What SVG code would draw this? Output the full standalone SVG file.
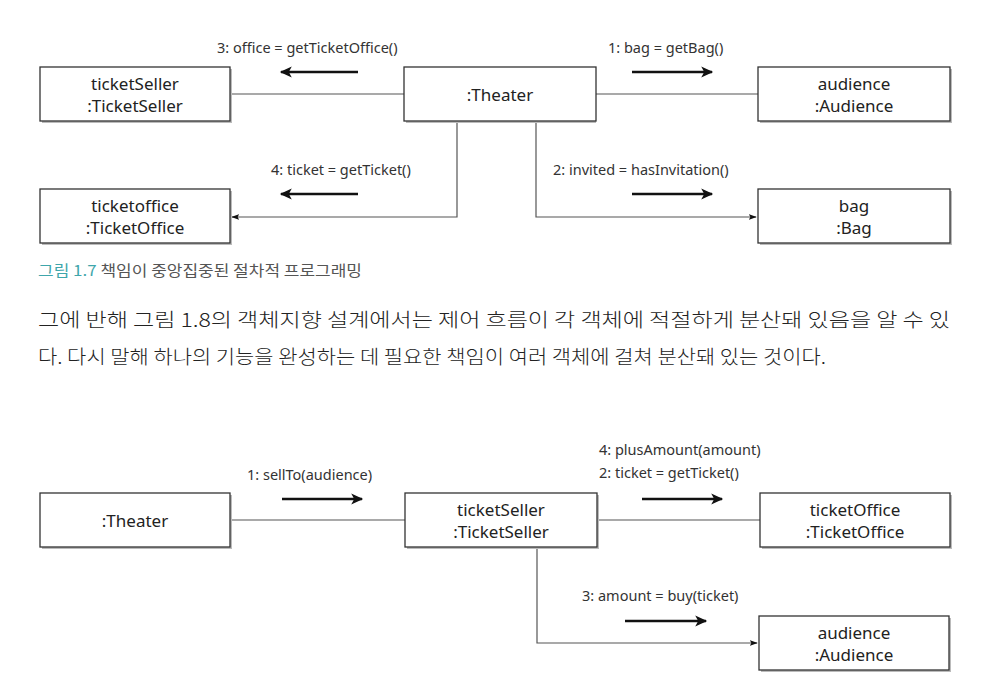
<svg xmlns="http://www.w3.org/2000/svg" width="986" height="686" viewBox="0 0 986 686">
<defs>
<style>
.box{fill:#fff;stroke:#333;stroke-width:1.3}
.sh{fill:#bbb}
.nt{font-family:"Noto Sans","Open Sans",sans-serif;font-size:17px;fill:#222;text-anchor:middle}
.lb{font-family:"Noto Sans","Open Sans",sans-serif;font-size:14.5px;fill:#333}
.ln{fill:none;stroke:#555;stroke-width:1.2}
.ar{fill:none;stroke:#111;stroke-width:2.4}
.cap{font-family:"Noto Sans CJK KR",sans-serif;font-size:15px;fill:#555}
.para{font-family:"Noto Sans CJK KR",sans-serif;font-size:19px;font-weight:300;fill:#222}
</style>
<marker id="ah" viewBox="0 0 10 10" refX="9" refY="5" markerWidth="8" markerHeight="8" orient="auto" markerUnits="userSpaceOnUse">
<path d="M0,1.5 L10,5 L0,8.5 L2,5 Z" fill="#111"/>
</marker>
<marker id="big" viewBox="0 0 10 10" refX="9" refY="5" markerWidth="14" markerHeight="12" orient="auto" markerUnits="userSpaceOnUse">
<path d="M0,0.5 L10,5 L0,9.5 L2.5,5 Z" fill="#111"/>
</marker>
</defs>
<rect width="986" height="686" fill="#fff"/>

<g id="connectors">
<line class="ln" x1="230" y1="94" x2="404" y2="94"/>
<line class="ln" x1="596" y1="94" x2="758" y2="94"/>
<polyline class="ln" points="457,121 457,217 232,217" marker-end="url(#ah)"/>
<polyline class="ln" points="536,121 536,217 756,217" marker-end="url(#ah)"/>
<line class="ln" x1="230" y1="520" x2="405" y2="520"/>
<line class="ln" x1="597" y1="520" x2="760" y2="520"/>
<polyline class="ln" points="537,547 537,643 757,643" marker-end="url(#ah)"/>

<line class="ar" x1="358" y1="72" x2="281" y2="72" marker-end="url(#big)"/>
<line class="ar" x1="358" y1="194" x2="281" y2="194" marker-end="url(#big)"/>
<line class="ar" x1="632" y1="72" x2="712" y2="72" marker-end="url(#big)"/>
<line class="ar" x1="632" y1="194" x2="712" y2="194" marker-end="url(#big)"/>
<line class="ar" x1="282" y1="499" x2="362" y2="499" marker-end="url(#big)"/>
<line class="ar" x1="642" y1="499" x2="722" y2="499" marker-end="url(#big)"/>
<line class="ar" x1="625" y1="621" x2="706" y2="621" marker-end="url(#big)"/>

<text class="lb" x="217" y="53">3: office = getTicketOffice()</text>
<text class="lb" x="608" y="53">1: bag = getBag()</text>
<text class="lb" x="271" y="175">4: ticket = getTicket()</text>
<text class="lb" x="553" y="175">2: invited = hasInvitation()</text>
<text class="lb" x="247" y="480">1: sellTo(audience)</text>
<text class="lb" x="599" y="455">4: plusAmount(amount)</text>
<text class="lb" x="599" y="478">2: ticket = getTicket()</text>
<text class="lb" x="582" y="601">3: amount = buy(ticket)</text>
</g>

<g id="ticketSeller1">
<rect class="sh" x="42" y="69" width="190" height="54"/>
<rect class="box" x="40" y="67" width="190" height="54"/>
<text class="nt" x="135" y="90">ticketSeller</text>
<text class="nt" x="135" y="112">:TicketSeller</text>
</g>
<g id="theater1">
<rect class="sh" x="406" y="69" width="190" height="54"/>
<rect class="box" x="404" y="67" width="192" height="54"/>
<text class="nt" x="500" y="101">:Theater</text>
</g>
<g id="audience1">
<rect class="sh" x="760" y="69" width="192" height="54"/>
<rect class="box" x="758" y="67" width="192" height="54"/>
<text class="nt" x="854" y="90">audience</text>
<text class="nt" x="854" y="112">:Audience</text>
</g>
<g id="ticketoffice1">
<rect class="sh" x="42" y="191" width="190" height="54"/>
<rect class="box" x="40" y="189" width="190" height="54"/>
<text class="nt" x="135" y="212">ticketoffice</text>
<text class="nt" x="135" y="234">:TicketOffice</text>
</g>
<g id="bag1">
<rect class="sh" x="760" y="191" width="192" height="54"/>
<rect class="box" x="758" y="189" width="192" height="54"/>
<text class="nt" x="854" y="212">bag</text>
<text class="nt" x="854" y="234">:Bag</text>
</g>

<g id="caption">
<text class="cap" x="38" y="276" textLength="324" lengthAdjust="spacingAndGlyphs"><tspan fill="#3fa6ab">그림 1.7</tspan> 책임이 중앙집중된 절차적 프로그래밍</text>
</g>
<g id="paragraph">
<text class="para" x="38" y="327" textLength="912" lengthAdjust="spacingAndGlyphs">그에 반해 그림 1.8의 객체지향 설계에서는 제어 흐름이 각 객체에 적절하게 분산돼 있음을 알 수 있</text>
<text class="para" x="38" y="364" textLength="788" lengthAdjust="spacingAndGlyphs">다. 다시 말해 하나의 기능을 완성하는 데 필요한 책임이 여러 객체에 걸쳐 분산돼 있는 것이다.</text>
</g>

<g id="theater2">
<rect class="sh" x="42" y="495" width="190" height="54"/>
<rect class="box" x="40" y="493" width="190" height="54"/>
<text class="nt" x="135" y="527">:Theater</text>
</g>
<g id="ticketSeller2">
<rect class="sh" x="407" y="495" width="192" height="54"/>
<rect class="box" x="405" y="493" width="192" height="54"/>
<text class="nt" x="501" y="516">ticketSeller</text>
<text class="nt" x="501" y="538">:TicketSeller</text>
</g>
<g id="ticketOffice2">
<rect class="sh" x="762" y="495" width="190" height="54"/>
<rect class="box" x="760" y="493" width="190" height="54"/>
<text class="nt" x="855" y="516">ticketOffice</text>
<text class="nt" x="855" y="538">:TicketOffice</text>
</g>
<g id="audience2">
<rect class="sh" x="761" y="618" width="190" height="54"/>
<rect class="box" x="759" y="616" width="190" height="54"/>
<text class="nt" x="854" y="639">audience</text>
<text class="nt" x="854" y="661">:Audience</text>
</g>
</svg>
